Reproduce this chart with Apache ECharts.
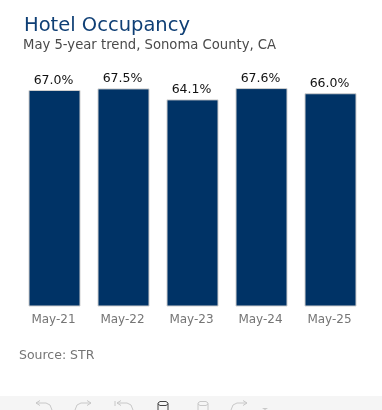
<!DOCTYPE html>
<html><head><meta charset="utf-8">
<style>html,body{margin:0;padding:0;background:#fff}#c{width:382px;height:410px}</style>
<script src="https://cdn.jsdelivr.net/npm/echarts@6/dist/echarts.min.js"></script>
</head><body><div id="c"></div>
<script>
const categories = ["May-21","May-22","May-23","May-24","May-25"];
const occupancy = [67.0,67.5,64.1,67.6,66.0];
const titleText = "Hotel Occupancy";
const subtitleText = "May 5-year trend, Sonoma County, CA";
const sourceText = "Source: STR";
const font = "DejaVu Sans";
const light = '#c8c8c8', dark = '#444';
const chart = echarts.init(document.getElementById('c'),null,{renderer:'canvas'});
const pl = (pts,c) => ({type:'polyline',shape:{points:pts},style:{fill:null,stroke:c,lineWidth:1}});
const undo = (x,c) => [
  pl([[x,403],[x+10,403],[x+14,405],[x+16,410]],c),
  pl([[x+4,400.5],[x,403],[x+4,405.5]],c)];
const redo = (x,c) => [
  pl([[x+16,403],[x+6,403],[x+2,405],[x,410]],c),
  pl([[x+12,400.5],[x+16,403],[x+12,405.5]],c)];
const cyl = (x,c) => [
  pl([[x,410],[x,403],[x+2,401.5],[x+8,401.5],[x+10,403],[x+10,410]],c),
  pl([[x,404],[x+2,405.5],[x+8,405.5],[x+10,404]],c)];
chart.setOption({
  animation:false,
  backgroundColor:'#fff',
  grid:{left:20,width:345,top:48,bottom:103.5},
  xAxis:{type:'category',data:categories,
    axisLine:{show:false},axisTick:{show:false},
    axisLabel:{color:'#757575',fontFamily:font,fontSize:12,margin:7,padding:[0,2,0,0]}},
  yAxis:{type:'value',min:0,max:80,show:false,splitLine:{show:false}},
  series:[{type:'bar',data:occupancy,barWidth:52,
    itemStyle:{color:'#003366',borderColor:'#cfcfcf',borderWidth:1},
    label:{show:true,position:'top',distance:3,offset:[-1,0],color:'#111',fontFamily:font,fontSize:12.5,
      formatter:p=>p.value.toFixed(1)+'%'}}],
  graphic:[
    {type:'text',x:24,y:16,style:{text:titleText,fill:'#0f3f75',font:'19.5px "DejaVu Sans"'}},
    {type:'text',x:23,y:39,style:{text:subtitleText,fill:'#4a4a4a',font:'13.2px "DejaVu Sans"'}},
    {type:'text',x:19,y:349,style:{text:sourceText,fill:'#757575',font:'12.5px "DejaVu Sans"'}},
    {type:'rect',shape:{x:0,y:396,width:382,height:14},style:{fill:'#f5f5f5'}},
    ...undo(36,light),
    ...redo(75,light),
    pl([[115,401],[115,406]],light),
    ...undo(117,light),
    ...cyl(158,dark),
    ...cyl(198,light),
    ...redo(231,light),
    {type:'polygon',shape:{points:[[262,408],[268,408],[265,410]]},style:{fill:light}}
  ]
});
</script></body></html>
